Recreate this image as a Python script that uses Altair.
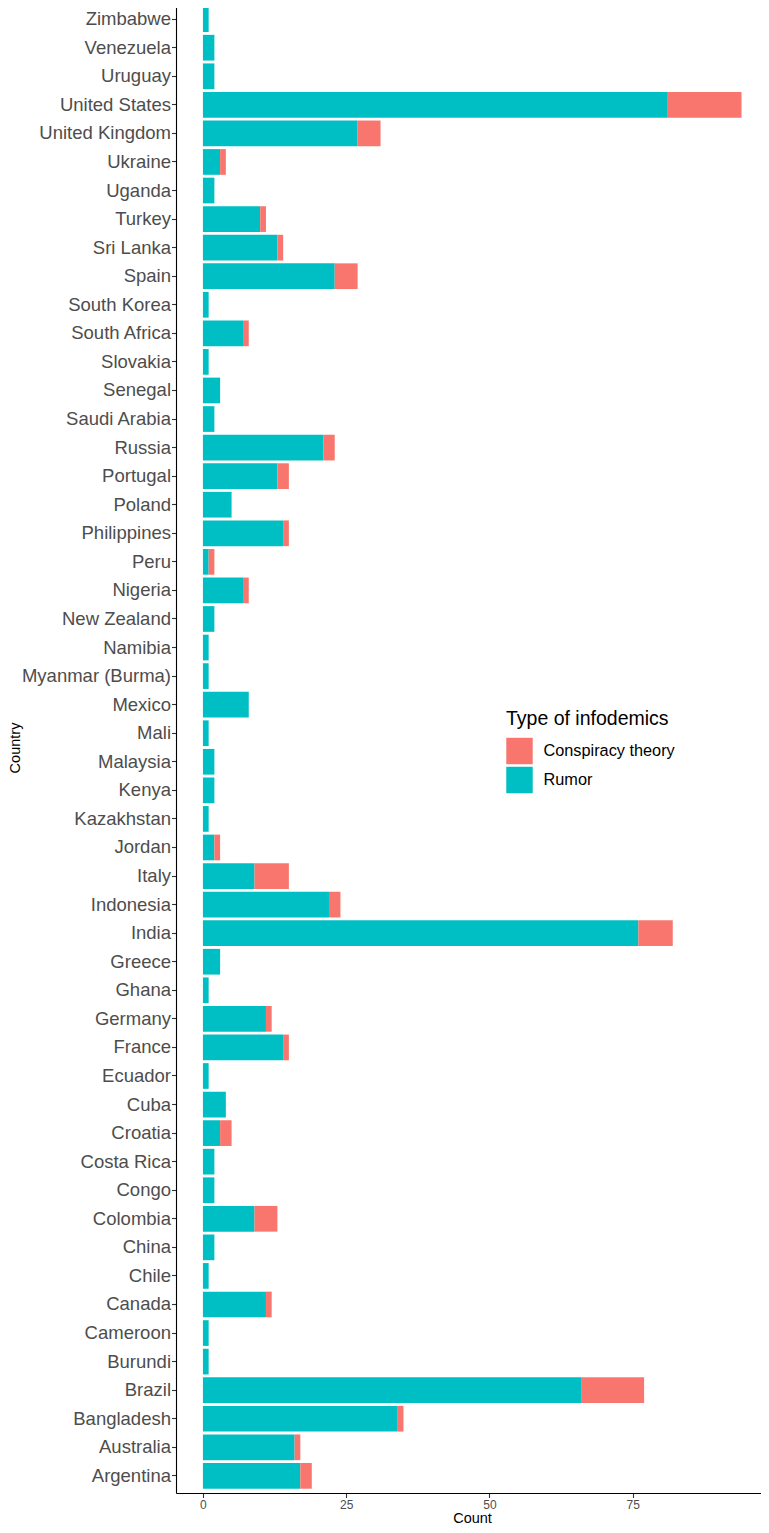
import altair as alt
import pandas as pd

countries = [
    "Zimbabwe", "Venezuela", "Uruguay", "United States", "United Kingdom", "Ukraine",
    "Uganda", "Turkey", "Sri Lanka", "Spain", "South Korea", "South Africa", "Slovakia",
    "Senegal", "Saudi Arabia", "Russia", "Portugal", "Poland", "Philippines", "Peru",
    "Nigeria", "New Zealand", "Namibia", "Myanmar (Burma)", "Mexico", "Mali", "Malaysia",
    "Kenya", "Kazakhstan", "Jordan", "Italy", "Indonesia", "India", "Greece", "Ghana",
    "Germany", "France", "Ecuador", "Cuba", "Croatia", "Costa Rica", "Congo", "Colombia",
    "China", "Chile", "Canada", "Cameroon", "Burundi", "Brazil", "Bangladesh",
    "Australia", "Argentina",
]
rumor = [
    1, 2, 2, 81, 27, 3,
    2, 10, 13, 23, 1, 7, 1,
    3, 2, 21, 13, 5, 14, 1,
    7, 2, 1, 1, 8, 1, 2,
    2, 1, 2, 9, 22, 76, 3, 1,
    11, 14, 1, 4, 3, 2, 2, 9,
    2, 1, 11, 1, 1, 66, 34,
    16, 17,
]
conspiracy = [
    0, 0, 0, 13, 4, 1,
    0, 1, 1, 4, 0, 1, 0,
    0, 0, 2, 2, 0, 1, 1,
    1, 0, 0, 0, 0, 0, 0,
    0, 0, 1, 6, 2, 6, 0, 0,
    1, 1, 0, 0, 2, 0, 0, 4,
    0, 0, 1, 0, 0, 11, 1,
    1, 2,
]
types = ["Conspiracy theory", "Rumor"]
colors = ["#F8766D", "#00BFC4"]
x_ticks = [0, 25, 50, 75]

rows = []
for c, r, k in zip(countries, rumor, conspiracy):
    if r > 0:
        rows.append({"country": c, "type": "Rumor", "count": r, "stack_order": 0})
    if k > 0:
        rows.append({"country": c, "type": "Conspiracy theory", "count": k, "stack_order": 1})
df = pd.DataFrame(rows)

FONT = "Liberation Sans"

chart = (
    alt.Chart(df)
    .mark_bar()
    .encode(
        y=alt.Y(
            "country:N",
            sort=countries,
            scale=alt.Scale(paddingInner=0.1, paddingOuter=0.15),
            axis=alt.Axis(
                title="Country",
                titleFont=FONT,
                titleFontSize=14.5,
                titleFontWeight="normal",
                titleColor="black",
                titleX=-154,
                labelFont=FONT,
                labelFontSize=18.5,
                labelColor="#4D4D4D",
                labelPadding=1,
                tickSize=4.5,
                tickColor="#333333",
                tickWidth=1.1,
                domainColor="black",
                domainWidth=1.1,
                grid=False,
            ),
        ),
        x=alt.X(
            "count:Q",
            stack="zero",
            scale=alt.Scale(domain=[-4.7, 97.4], nice=False, zero=False),
            axis=alt.Axis(
                values=x_ticks,
                title="Count",
                titleFont=FONT,
                titleFontSize=14.5,
                titleFontWeight="normal",
                titleColor="black",
                titlePadding=1,
                titleX=296,
                labelFont=FONT,
                labelFontSize=12,
                labelColor="#4D4D4D",
                labelPadding=2,
                tickSize=4.5,
                tickColor="#333333",
                tickWidth=1.1,
                domainColor="black",
                domainWidth=1.1,
                grid=False,
            ),
        ),
        color=alt.Color(
            "type:N",
            scale=alt.Scale(domain=types, range=colors),
            legend=alt.Legend(
                title="Type of infodemics",
                orient="none",
                legendX=330,
                legendY=708,
                padding=0,
                titleFont=FONT,
                titleFontSize=19.5,
                titleFontWeight="normal",
                titleColor="black",
                titlePadding=8,
                labelFont=FONT,
                labelFontSize=16.3,
                labelColor="black",
                labelOffset=10.5,
                symbolType="square",
                symbolSize=700,
                symbolStrokeWidth=0,
                symbolOpacity=1,
                rowPadding=2,
            ),
        ),
        order=alt.Order("stack_order:Q"),
    )
    .properties(
        width=585,
        height=1491,
        padding={"left": 168, "top": -6, "right": 0, "bottom": 32},
        autosize="none",
    )
    .configure(font=FONT)
    .configure_view(stroke=None)
)

chart.save("out.html", embed_options={"renderer": "svg", "actions": False})
